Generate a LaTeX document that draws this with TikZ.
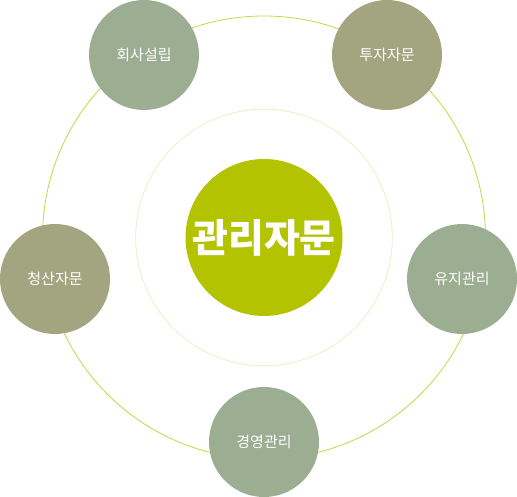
\documentclass[tikz,border=0pt]{standalone}
\usepackage{fontspec}
\usepackage{xcolor}
\newfontfamily\cjk{Noto Sans CJK KR}
\definecolor{sagegreen}{RGB}{155, 174, 146}
\definecolor{khaki}{RGB}{163, 165, 128}
\definecolor{limecore}{RGB}{179, 195, 0}
\definecolor{ringline}{RGB}{200, 212, 70}
\definecolor{ringpale}{RGB}{232, 240, 196}

\begin{document}
\begin{tikzpicture}[x=1pt, y=-1pt,
  sat/.style={circle, minimum size=110pt, inner sep=0pt, text=white,
    font=\cjk\fontsize{15}{17}\selectfont},
  core/.style={circle, minimum size=157pt, inner sep=0pt, fill=limecore,
    text=white, font=\cjk\bfseries\fontsize{39}{41}\selectfont}]

  \useasboundingbox (0, 0) rectangle (517, 497);

  \coordinate (O) at (264, 237.5);

  % Rings
  \draw[ringline, line width=0.8pt] (O) circle[radius=221.5];
  \draw[ringpale, line width=0.8pt] (O) circle[radius=128.3];

  % Core
  \node[core] (core) at (O) {관리자문};

  % Satellites
  \node[sat, fill=sagegreen] (found)   at (144, 55)  {회사설립};
  \node[sat, fill=khaki]     (invest)  at (387, 55)  {투자자문};
  \node[sat, fill=khaki]     (liquid)  at (55, 279)  {청산자문};
  \node[sat, fill=sagegreen] (upkeep)  at (462, 279) {유지관리};
  \node[sat, fill=sagegreen] (manage)  at (264, 442) {경영관리};

\end{tikzpicture}
\end{document}
